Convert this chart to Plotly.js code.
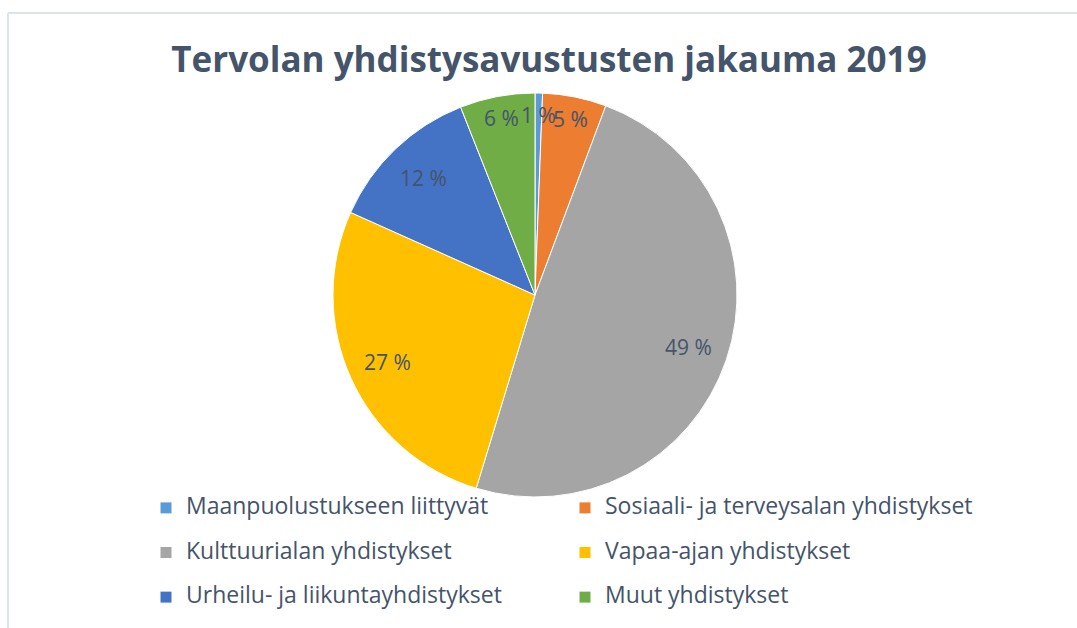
<!DOCTYPE html>
<html>
<head>
<meta charset="utf-8">
<script src="https://cdn.plot.ly/plotly-3.0.1.min.js"></script>
<style>html,body{margin:0;padding:0;background:#fff;overflow:hidden;}#chart{width:1077px;height:628px;}</style>
</head>
<body>
<div id="chart"></div>
<script>
// ---- data ----
const categories = [
  "Maanpuolustukseen liittyvät",
  "Sosiaali- ja terveysalan yhdistykset",
  "Kulttuurialan yhdistykset",
  "Vapaa-ajan yhdistykset",
  "Urheilu- ja liikuntayhdistykset",
  "Muut yhdistykset"
];
const shares = [0.6, 5.1, 49, 27, 12.3, 6];
const labelText = ["1 %", "5 %", "49 %", "27 %", "12 %", "6 %"];
const chartTitle = "Tervolan yhdistysavustusten jakauma 2019";

// ---- styles / geometry ----
const colors = ["#5B9BD5", "#ED7D31", "#A5A5A5", "#FFC000", "#4472C4", "#70AD47"];
const W = 1077, H = 628;
const cx = 535, cy = 295, R = 202;
const textColor = "#44546A";
const legendTextSize = 23;

const domainX = [(cx - R) / W, (cx + R) / W];
const domainY = [1 - (cy + R) / H, 1 - (cy - R) / H];

const total = shares.reduce((a, b) => a + b, 0);
let cum = 0;
const annotations = shares.map((v, i) => {
  const mid = (cum + v / 2) / total * 2 * Math.PI;
  cum += v;
  const f = v >= 10 ? 0.8 : 0.89;
  const px = cx + R * f * Math.sin(mid);
  const py = cy - R * f * Math.cos(mid);
  return {
    xref: "paper", yref: "paper",
    x: px / W, y: 1 - py / H,
    text: labelText[i], showarrow: false,
    xanchor: "center", yanchor: "middle",
    font: {family: "Open Sans, sans-serif", size: 21, color: textColor}
  };
});

// legend labels: larger text plus an empty second line for Excel-like row spacing
const legendLabels = categories.map(c =>
  "<span style='font-size:" + legendTextSize + "px'>" + c + "</span><br> ");

const trace = {
  type: "pie",
  labels: legendLabels,
  values: shares,
  sort: false,
  direction: "clockwise",
  rotation: 0,
  textinfo: "none",
  hoverinfo: "percent",
  marker: {colors: colors, line: {color: "#ffffff", width: 1}},
  domain: {x: domainX, y: domainY}
};

const layout = {
  width: W, height: H,
  margin: {l: 0, r: 0, t: 0, b: 0, autoexpand: false},
  paper_bgcolor: "#ffffff",
  title: {
    text: "<b>" + chartTitle + "</b>",
    x: 549 / W, xanchor: "center",
    y: 1 - 60 / H, yanchor: "middle",
    font: {family: "Open Sans, sans-serif", size: 35, color: textColor}
  },
  showlegend: true,
  legend: {
    orientation: "h",
    x: 146 / W, xanchor: "left",
    y: 1 - 491 / H, yanchor: "top",
    entrywidth: 374, entrywidthmode: "pixels",
    valign: "top",
    bgcolor: "rgba(0,0,0,0)",
    font: {family: "Open Sans, sans-serif", size: 16, color: textColor},
    traceorder: "normal"
  },
  annotations: annotations,
  shapes: [
    {type: "line", xref: "paper", yref: "paper", x0: 8 / W, x1: 1, y0: 1 - 13 / H, y1: 1 - 13 / H, line: {color: "#DDE3EA", width: 2}},
    {type: "line", xref: "paper", yref: "paper", x0: 8 / W, x1: 8 / W, y0: 0, y1: 1 - 13 / H, line: {color: "#DDE3EA", width: 2}}
  ]
};

Plotly.newPlot("chart", [trace], layout, {displayModeBar: false, staticPlot: true});
</script>
</body>
</html>
